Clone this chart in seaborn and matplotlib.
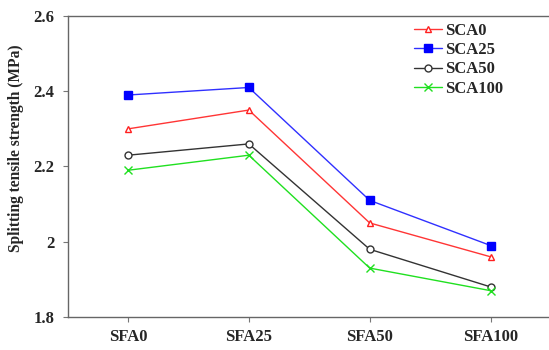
import matplotlib
matplotlib.use("Agg")
import matplotlib.pyplot as plt
import seaborn as sns
import pandas as pd

categories = ["SFA0", "SFA25", "SFA50", "SFA100"]
sca0 = [2.30, 2.35, 2.05, 1.96]
sca25 = [2.39, 2.41, 2.11, 1.99]
sca50 = [2.23, 2.26, 1.98, 1.88]
sca100 = [2.19, 2.23, 1.93, 1.87]
series_names = ["SCA0", "SCA25", "SCA50", "SCA100"]
yticks = [1.8, 2.0, 2.2, 2.4, 2.6]
ytick_labels = ["1.8", "2", "2.2", "2.4", "2.6"]

sns.set_style("white")
plt.rcParams['font.family'] = ['Liberation Serif', 'DejaVu Serif']

W, H = 549, 350
left_px, right_px, top_px, bot_px = 67.5, 551.0, 16.0, 317.0
fig = plt.figure(figsize=(W / 100, H / 100), dpi=100)
ax = fig.add_axes([left_px / W, 1 - bot_px / H, (right_px - left_px) / W, (bot_px - top_px) / H])

styles = {
    "SCA0": dict(color="#ff3535", marker="^", mfc="white", mec="#ff2020", ms=5),
    "SCA25": dict(color="#3030ff", marker="s", mfc="#0000ff", mec="#0000ff", ms=5.5),
    "SCA50": dict(color="#333333", marker="o", mfc="white", mec="#333333", ms=5),
    "SCA100": dict(color="#20e020", marker="x", mfc="#20e020", mec="#20e020", ms=6),
}
data = {"SCA0": sca0, "SCA25": sca25, "SCA50": sca50, "SCA100": sca100}

for name in series_names:
    df = pd.DataFrame({"cat": categories, "val": data[name]})
    st = styles[name]
    sns.lineplot(data=df, x="cat", y="val", ax=ax, sort=False, label=name,
                 color=st["color"], marker=st["marker"],
                 markerfacecolor=st["mfc"], markeredgecolor=st["mec"],
                 markersize=st["ms"], markeredgewidth=1.0, linewidth=1.0)

ax.set_xlim(-0.5, 3.5)
ax.set_ylim(1.8, 2.6)
ax.set_yticks(yticks)
ax.set_yticklabels(ytick_labels)
ax.set_xlabel("")
ax.set_ylabel("Splitting tensile strength (MPa)", fontsize=11.2, fontweight="bold")
ax.yaxis.set_label_coords((24 - left_px) / (right_px - left_px), (bot_px - 148) / (bot_px - top_px))

for lab in ax.get_xticklabels() + ax.get_yticklabels():
    lab.set_fontweight("bold")
    lab.set_fontsize(12)

ax.tick_params(axis="both", direction="out", length=3.6, width=0.8, color="#777777",
               bottom=True, left=True)
ax.tick_params(axis="x", pad=5)
ax.tick_params(axis="y", pad=6)
for s in ["left", "bottom", "top"]:
    ax.spines[s].set_color("#666666")
    ax.spines[s].set_linewidth(1.0)
ax.spines["right"].set_visible(False)

leg = ax.legend(loc="upper left", bbox_to_anchor=(0.703, 1.0), frameon=False,
                prop={"weight": "bold", "size": 12}, handlelength=1.68,
                handletextpad=0.2, labelspacing=0.2, borderaxespad=0)

fig.savefig("out.png", dpi=100)
